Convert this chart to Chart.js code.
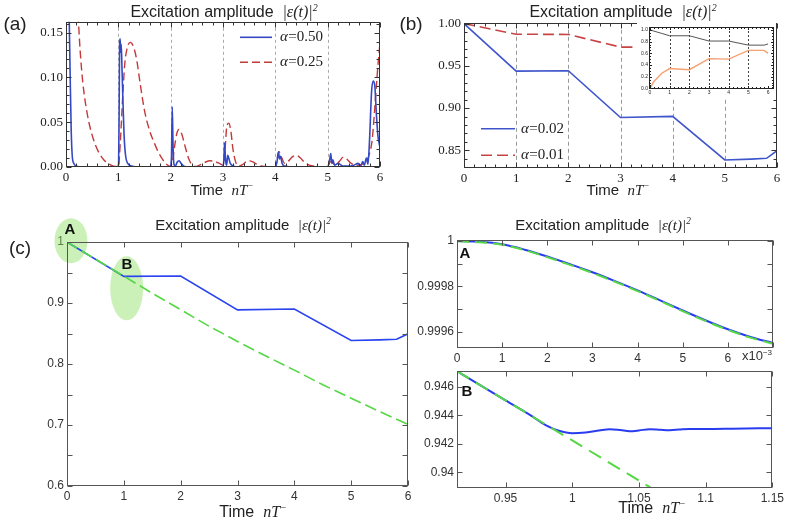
<!DOCTYPE html>
<html><head><meta charset="utf-8">
<script src="https://cdn.jsdelivr.net/npm/chart.js@4.4.0/dist/chart.umd.min.js"></script>
<style>
html,body{margin:0;padding:0;background:#fff;}
body{width:789px;height:523px;position:relative;overflow:hidden;font-family:'Liberation Sans',Arial,sans-serif;}
canvas{position:absolute;}
.t{position:absolute;white-space:nowrap;transform:translate(-50%,-50%);color:#222;line-height:1;}
.m{font-family:'Liberation Serif','DejaVu Serif',serif;font-style:italic;}
.b{font-weight:bold;color:#111;}
sup{font-size:62%;vertical-align:0.6em;line-height:0;}
</style></head><body>
<canvas id="ca"></canvas>
<canvas id="cb"></canvas>
<canvas id="cin"></canvas>
<canvas id="cc"></canvas>
<canvas id="cA"></canvas>
<canvas id="cB"></canvas>

<div class="t" style="left:15px;top:23px;font-size:19px">(a)</div>
<div class="t" style="left:411px;top:23px;font-size:19px">(b)</div>
<div class="t" style="left:20px;top:247px;font-size:19px">(c)</div>

<div class="t" style="left:224px;top:12px;font-size:16px">Excitation amplitude&nbsp; <span class="m">|ε(t)|<sup>2</sup></span></div>
<div class="t" style="left:623px;top:12px;font-size:16px">Excitation amplitude&nbsp; <span class="m">|ε(t)|<sup>2</sup></span></div>
<div class="t" style="left:243px;top:225px;font-size:15px">Excitation amplitude&nbsp; <span class="m">|ε(t)|<sup>2</sup></span></div>
<div class="t" style="left:603px;top:225px;font-size:15px">Excitation amplitude&nbsp; <span class="m">|ε(t)|<sup>2</sup></span></div>

<div class="t" style="left:222px;top:190px;font-size:15px">Time&nbsp; <span class="m">nT<sup>−</sup></span></div>
<div class="t" style="left:618px;top:190px;font-size:15px">Time&nbsp; <span class="m">nT<sup>−</sup></span></div>
<div class="t" style="left:253px;top:512px;font-size:16px">Time&nbsp; <span class="m">nT<sup>−</sup></span></div>
<div class="t" style="left:652px;top:508px;font-size:16px">Time&nbsp; <span class="m">nT<sup>−</sup></span></div>

<div class="t b" style="left:70px;top:228px;font-size:15px">A</div>
<div class="t b" style="left:127px;top:263px;font-size:15px">B</div>
<div class="t b" style="left:465px;top:252px;font-size:15px">A</div>
<div class="t b" style="left:467px;top:390px;font-size:15px">B</div>
<div class="t" style="left:757px;top:355px;font-size:13px;color:#333">x10<sup>−3</sup></div>

<script>
// ---------------- DATA ----------------
// Panel (a): |eps|^2, alpha = 0.50 (blue) and 0.25 (red dashed)
const paBlueT = [0,0.04,0.06,0.08,0.10,0.12,0.15,0.2,0.3,0.99,1.005,1.015,1.025,1.035,1.045,1.055,1.07,1.09,1.11,1.14,1.18,1.25,1.35,1.99,2.015,2.03,2.045,2.06,2.09,2.12,2.16,2.2,2.25,2.35,2.99,3.015,3.03,3.05,3.07,3.09,3.11,3.14,3.2,3.3,3.99,4.03,4.06,4.08,4.1,4.13,4.18,4.3,4.99,5.03,5.06,5.08,5.1,5.13,5.2,5.3,5.4,5.5,5.58,5.63,5.67,5.7,5.74,5.77,5.8,5.84,5.87,5.9,5.93,5.96,6.0];
const paBlueV = [0.30,0.22,0.17,0.10,0.04,0.012,0.004,0.001,0.0,0.0,0.004,0.06,0.138,0.143,0.128,0.137,0.11,0.07,0.035,0.012,0.004,0.001,0.0,0.0,0.01,0.067,0.025,0.004,0.001,0.005,0.007,0.004,0.001,0.0,0.0,0.006,0.027,0.007,0.002,0.013,0.01,0.004,0.001,0.0,0.0,0.005,0.017,0.009,0.012,0.004,0.001,0.0,0.0,0.005,0.015,0.004,0.008,0.002,0.004,0.001,0.001,0.002,0.004,0.001,0.006,0.002,0.01,0.003,0.03,0.085,0.096,0.091,0.06,0.035,0.022];
const paRedT = [0,0.1,0.18,0.24,0.27,0.32,0.41,0.54,0.7,0.86,0.95,1.0,1.04,1.08,1.12,1.17,1.23,1.29,1.35,1.42,1.5,1.6,1.68,1.76,1.84,1.92,2.0,2.04,2.08,2.12,2.16,2.21,2.28,2.34,2.4,2.47,2.55,2.65,2.75,2.85,2.93,3.0,3.04,3.07,3.11,3.15,3.19,3.24,3.3,3.38,3.48,3.56,3.65,3.75,3.9,4.0,4.03,4.07,4.11,4.18,4.24,4.32,4.4,4.48,4.56,4.65,4.8,5.0,5.05,5.1,5.15,5.22,5.3,5.36,5.45,5.55,5.65,5.75,5.8,5.85,5.89,5.93,5.97,6.0];
const paRedV = [1.0,0.45,0.22,0.16,0.13,0.095,0.058,0.028,0.0096,0.002,0.0005,0.0005,0.03,0.075,0.113,0.133,0.139,0.134,0.12,0.092,0.063,0.04,0.028,0.017,0.009,0.003,0.0005,0.008,0.025,0.038,0.042,0.037,0.022,0.01,0.003,0.0005,0.002,0.005,0.007,0.006,0.004,0.002,0.02,0.044,0.049,0.04,0.02,0.006,0.001,0.003,0.007,0.006,0.003,0.001,0.0003,0.0,0.008,0.017,0.012,0.004,0.006,0.011,0.013,0.01,0.005,0.002,0.0005,0.0,0.006,0.004,0.003,0.006,0.011,0.009,0.004,0.002,0.003,0.008,0.015,0.03,0.058,0.09,0.12,0.138];
const paLabels = ['α=0.50','α=0.25'];
const paXTicks = [0,1,2,3,4,5,6];
const paYTicks = [0,0.05,0.10,0.15];

// Panels (b) and (c): alpha = 0.02 (blue), alpha = 0.01 (red dashed)
const slowT = [0,1,2,3,4,5,5.5,5.8,6];
const slowBlue = [1.0,0.9437,0.9442,0.8888,0.8902,0.8385,0.8395,0.8405,0.8495];
const pbRedT = [0,1,2,3,4,5,6];
const pbRedV = [1.0,0.9875,0.9872,0.9722,0.9722,0.9587,0.9598];
const pbLabels = ['α=0.02','α=0.01'];
const pbXTicks = [0,1,2,3,4,5,6];
const pbYTicks = [0.85,0.90,0.95,1.00];

// Inset of (b)
const inT = [0,0.2,0.6,1,2,3,4,5,5.8,6];
const inGray = [1.0,0.98,0.94,0.90,0.90,0.81,0.81,0.74,0.74,0.76];
const inOrange = [0.0,0.12,0.26,0.34,0.32,0.51,0.50,0.65,0.65,0.60];
const inXTicks = [0,1,2,3,4,5,6];
const inYTicks = [0,0.2,0.4,0.6,0.8,1.0];

// Panel (c): green dashed reference decay
const pcGreenT = [0,0.5,1,1.5,2,2.5,3,3.5,4,4.5,5,5.5,6];
const pcGreenV = [1.0,0.972,0.944,0.916,0.889,0.862,0.837,0.813,0.790,0.766,0.744,0.722,0.701];
const pcXTicks = [0,1,2,3,4,5,6];
const pcYTicks = [0.6,0.65,0.7,0.75,0.8,0.85,0.9,0.95,1.0];
const pcYLabels = [0.6,0.7,0.8,0.9,1.0];

// Panel A (time in units of 1e-3)
const pAT = [0,0.5,1,1.5,2,2.5,3,3.5,4,4.5,5,5.5,6,6.5,7];
const pABlue = [1.0,0.999997,0.999986,0.999962,0.999932,0.999898,0.999862,0.999823,0.999782,0.999738,0.999693,0.999650,0.999610,0.999576,0.999549];
const pAGreen = [0.999999,0.999995,0.999984,0.999960,0.999929,0.999895,0.999859,0.999820,0.999779,0.999735,0.999690,0.999647,0.999607,0.999573,0.999546];
const pAXTicks = [0,1,2,3,4,5,6,7];
const pAXLabels = [0,1,2,3,4,5,6];
const pAYTicks = [0.9996,0.9997,0.9998,0.9999,1.0];
const pAYLabels = [0.9996,0.9998,1.0];

// Panel B
const pBBlueT = [0.9136,0.93,0.95,0.97,0.98,0.99,1.0,1.01,1.02,1.028,1.036,1.043,1.05,1.058,1.066,1.073,1.08,1.088,1.1,1.12,1.15];
const pBBlueV = [0.9471,0.94618,0.94505,0.94393,0.94332,0.94292,0.94275,0.94280,0.94293,0.94303,0.94297,0.94289,0.94294,0.94303,0.94299,0.94296,0.94300,0.94305,0.94304,0.94306,0.94310];
const pBGreenT = [0.9136,0.95,1.0,1.06];
const pBGreenV = [0.9471,0.94505,0.94224,0.93886];
const pBXTicks = [0.95,1.0,1.05,1.1,1.15];
const pBYTicks = [0.94,0.942,0.944,0.946];

// ---------------- HELPERS ----------------
const zip = (t,v) => t.map((x,i)=>({x, y:v[i]}));
const range = (a,b,s) => { const r=[]; for(let v=a; v<=b+1e-9; v+=s) r.push(+v.toFixed(6)); return r; };
const fmtNum = v => String(+v.toFixed(6));

function place(id, r, yW, padT, padR, xH){
  const c=document.getElementById(id);
  const w=r.R-r.L+yW+padR, h=r.B-r.T+padT+xH;
  c.style.left=(r.L-yW)+'px'; c.style.top=(r.T-padT)+'px';
  c.width=w; c.height=h; c.style.width=w+'px'; c.style.height=h+'px';
  return c;
}

function axis(o){
  const all = o.ticks.slice().sort((a,b)=>a-b);
  const lab = o.labels || o.ticks;
  return {
    type:'linear', min:o.min, max:o.max,
    grid:{display:false, drawTicks:false},
    border:{display:false},
    ticks:{autoSkip:false, maxRotation:0, minRotation:0, padding:o.pad ?? 3, color:o.color||'#222',
      font:o.font,
      callback:(v)=> lab.some(m=>Math.abs(m-v)<1e-9) ? o.fmt(v) : ''},
    afterBuildTicks:(s)=>{ s.ticks = all.map(v=>({value:v})); },
    afterFit:(s)=>{ if(o.isX) s.height=o.size; else s.width=o.size; }
  };
}

const framePlugin = {id:'frame', afterDatasetsDraw(chart, args, o){
  if(!o || !o.color) return;
  const {ctx, chartArea:a} = chart;
  const x0=Math.round(a.left)+0.5, x1=Math.round(a.right)-0.5, y0=Math.round(a.top)+0.5, y1=Math.round(a.bottom)-0.5;
  ctx.save(); ctx.strokeStyle=o.color; ctx.lineWidth=o.lw||1; ctx.setLineDash([]);
  for(const sc of Object.values(chart.scales)){
    for(const t of sc.ticks){
      const len = t.label ? o.major : o.minor;
      const p = Math.round(sc.getPixelForValue(t.value))+0.5;
      ctx.beginPath();
      if(sc.isHorizontal()){
        if(p<x0-1||p>x1+1) continue;
        ctx.moveTo(p,y1); ctx.lineTo(p,y1-len); ctx.moveTo(p,y0); ctx.lineTo(p,y0+len);
      } else {
        if(p<y0-1||p>y1+1) continue;
        ctx.moveTo(x0,p); ctx.lineTo(x0+len,p); ctx.moveTo(x1,p); ctx.lineTo(x1-len,p);
      }
      ctx.stroke();
    }
  }
  ctx.strokeRect(x0,y0,x1-x0,y1-y0);
  ctx.restore();
}};

const vlinePlugin = {id:'vlines', beforeDatasetsDraw(chart, args, o){
  if(!o || !o.values) return;
  const {ctx, chartArea:a, scales:{x}} = chart;
  ctx.save(); ctx.strokeStyle=o.color; ctx.lineWidth=1; ctx.setLineDash(o.dash);
  for(const v of o.values){
    const p=Math.round(x.getPixelForValue(v))+0.5;
    ctx.beginPath(); ctx.moveTo(p,a.top); ctx.lineTo(p,a.bottom); ctx.stroke();
  }
  ctx.restore();
}};

const legendPlugin = {id:'inleg', afterDatasetsDraw(chart, args, o){
  if(!o || !o.items) return;
  const {ctx, chartArea:a} = chart;
  ctx.save();
  for(const it of o.items){
    const ds=chart.data.datasets[it.ds]; const y=a.top+it.dy;
    ctx.strokeStyle=ds.borderColor; ctx.lineWidth=ds.borderWidth; ctx.setLineDash(it.dash||[]);
    ctx.beginPath(); ctx.moveTo(a.left+o.x0,y); ctx.lineTo(a.left+o.x1,y); ctx.stroke(); ctx.setLineDash([]);
    const lab=ds.label; ctx.fillStyle='#222'; ctx.textBaseline='middle'; ctx.textAlign='left';
    ctx.font='italic '+o.size+'px "Liberation Serif", serif';
    ctx.fillText(lab[0], a.left+o.tx, y);
    const w=ctx.measureText(lab[0]).width;
    ctx.font=o.size+'px "Liberation Serif", serif';
    ctx.fillText(lab.slice(1), a.left+o.tx+w+0.5, y);
  }
  ctx.restore();
}};

const ellipsePlugin = {id:'ellipses', beforeDatasetsDraw(chart, args, o){
  if(!o || !o.items) return;
  const {ctx, scales:{x,y}} = chart;
  ctx.save(); ctx.fillStyle=o.color;
  for(const e of o.items){
    ctx.beginPath(); ctx.ellipse(x.getPixelForValue(e.x), y.getPixelForValue(e.y), e.rx, e.ry, 0, 0, Math.PI*2); ctx.fill();
  }
  ctx.restore();
}};

const bgPlugin = {id:'bg', beforeDraw(chart, args, o){
  if(!o || !o.color) return;
  const {ctx} = chart; ctx.save(); ctx.fillStyle=o.color; ctx.fillRect(0,0,chart.width,chart.height); ctx.restore();
}};

Chart.register(framePlugin, vlinePlugin, legendPlugin, ellipsePlugin, bgPlugin);

function make(id, datasets, scales, plugins, padT, padR){
  return new Chart(document.getElementById(id), {
    type:'line',
    data:{datasets},
    options:{
      responsive:false, animation:false, devicePixelRatio:1, events:[],
      layout:{padding:{top:padT, right:padR, left:0, bottom:0}},
      scales,
      plugins:Object.assign({legend:{display:false}, tooltip:{enabled:false}}, plugins)
    }
  });
}

const serif13 = {family:'"Liberation Serif", "DejaVu Serif", serif', size:13};
const sans12 = {family:'"Liberation Sans", Arial, sans-serif', size:12};

// ---------------- PANEL (a) ----------------
place('ca', {L:66,T:21,R:380,B:167}, 50, 10, 16, 22);
make('ca', [
  {label:paLabels[0], data:zip(paBlueT,paBlueV), borderColor:'#3448c4', borderWidth:1.6, pointRadius:0, cubicInterpolationMode:'monotone', order:0},
  {label:paLabels[1], data:zip(paRedT,paRedV), borderColor:'#c43a3a', borderWidth:1.4, borderDash:[8,4], pointRadius:0, cubicInterpolationMode:'monotone', order:1}
], {
  x: axis({min:0,max:6,ticks:paXTicks.concat(range(0.2,5.8,0.2).filter(v=>Math.abs(v-Math.round(v))>1e-6)),labels:paXTicks,fmt:v=>String(Math.round(v)),font:serif13,isX:true,size:22}),
  y: axis({min:0,max:0.162,ticks:paYTicks.concat(range(0.01,0.16,0.01).filter(v=>Math.abs(v*20-Math.round(v*20))>1e-6)),labels:paYTicks,fmt:v=>v.toFixed(2),font:serif13,size:50})
}, {
  frame:{color:'#333', major:5, minor:3},
  vlines:{values:[1,2,3,4,5], color:'#aaa', dash:[3,3]},
  inleg:{x0:174, x1:206, tx:214, size:15, items:[{ds:0, dy:15.5},{ds:1, dy:40.5, dash:[8,4]}]}
}, 10, 16);

// ---------------- PANEL (b) ----------------
place('cb', {L:464,T:22,R:777,B:168}, 50, 10, 10, 22);
make('cb', [
  {label:pbLabels[0], data:zip(slowT,slowBlue), borderColor:'#3f55cc', borderWidth:1.6, pointRadius:0, tension:0, order:0},
  {label:pbLabels[1], data:zip(pbRedT,pbRedV), borderColor:'#c84444', borderWidth:1.6, borderDash:[11,5], pointRadius:0, tension:0, order:1}
], {
  x: axis({min:0,max:6,ticks:pbXTicks.concat(range(0.2,5.8,0.2).filter(v=>Math.abs(v-Math.round(v))>1e-6)),labels:pbXTicks,fmt:v=>String(Math.round(v)),font:serif13,isX:true,size:22}),
  y: axis({min:0.829,max:1.001,ticks:pbYTicks.concat(range(0.83,1.0,0.01).filter(v=>Math.abs(v*20-Math.round(v*20))>1e-6)),labels:pbYTicks,fmt:v=>v.toFixed(2),font:serif13,size:50})
}, {
  frame:{color:'#333', major:5, minor:3},
  vlines:{values:[1,2,3,4,5], color:'#999', dash:[4,3]},
  inleg:{x0:17, x1:51, tx:57, size:15, items:[{ds:0, dy:106},{ds:1, dy:132.5, dash:[11,5]}]}
}, 10, 10);

// ---------------- INSET ----------------
place('cin', {L:649,T:27,R:774,B:89}, 12, 4, 2, 8);
const tiny = {family:'"Liberation Sans", Arial, sans-serif', size:5};
make('cin', [
  {label:'gray', data:zip(inT,inGray), borderColor:'#555', borderWidth:1, pointRadius:0, tension:0},
  {label:'orange', data:zip(inT,inOrange), borderColor:'#f7a070', borderWidth:1.4, pointRadius:0, tension:0}
], {
  x: axis({min:-0.05,max:6.3,ticks:inXTicks.concat(range(0.2,6.2,0.2).filter(v=>Math.abs(v-Math.round(v))>1e-6)),labels:inXTicks,fmt:v=>String(Math.round(v)),font:tiny,isX:true,size:8,pad:1}),
  y: axis({min:-0.01,max:1.05,ticks:inYTicks.concat(range(0.05,1.0,0.05).filter(v=>Math.abs(v*5-Math.round(v*5))>1e-6)),labels:inYTicks,fmt:v=>v.toFixed(1),font:tiny,size:12,pad:1})
}, {
  bg:{color:'#fff'},
  frame:{color:'#222', major:2.5, minor:1.5},
  vlines:{values:[1,2,3,4,5], color:'#444', dash:[2,2]}
}, 4, 2);

// ---------------- PANEL (c) ----------------
place('cc', {L:67,T:242,R:408,B:486}, 50, 30, 14, 22);
make('cc', [
  {label:'full', data:zip(slowT,slowBlue), borderColor:'#2a44f0', borderWidth:1.6, pointRadius:0, tension:0, order:1},
  {label:'decay', data:zip(pcGreenT,pcGreenV), borderColor:'#55d844', borderWidth:1.6, borderDash:[12,5], pointRadius:0, tension:0, order:0}
], {
  x: axis({min:0,max:6,ticks:pcXTicks,labels:pcXTicks,fmt:v=>String(Math.round(v)),font:sans12,color:'#333',isX:true,size:22}),
  y: axis({min:0.6,max:1.0,ticks:pcYTicks,labels:pcYLabels,fmt:fmtNum,font:sans12,color:'#333',size:50})
}, {
  frame:{color:'#555', major:5, minor:5},
  ellipses:{color:'rgba(140,225,100,0.45)', items:[{x:0.07,y:1.002,rx:16.5,ry:22.5},{x:1.05,y:0.924,rx:16.5,ry:32}]}
}, 30, 14);

// ---------------- PANEL A ----------------
place('cA', {L:457,T:240,R:773,B:348}, 50, 10, 14, 20);
make('cA', [
  {label:'full', data:zip(pAT,pABlue), borderColor:'#2a3cf0', borderWidth:2, pointRadius:0, cubicInterpolationMode:'monotone', order:1},
  {label:'decay', data:zip(pAT,pAGreen), borderColor:'#55d844', borderWidth:2, borderDash:[12,6], pointRadius:0, cubicInterpolationMode:'monotone', order:0}
], {
  x: axis({min:0,max:7,ticks:pAXTicks,labels:pAXLabels,fmt:v=>String(Math.round(v)),font:sans12,color:'#333',isX:true,size:20}),
  y: axis({min:0.999527,max:1.000004,ticks:pAYTicks,labels:pAYLabels,fmt:fmtNum,font:sans12,color:'#333',size:50})
}, {
  frame:{color:'#555', major:5, minor:5}
}, 10, 14);

// ---------------- PANEL B ----------------
place('cB', {L:457,T:371,R:773,B:488}, 50, 10, 14, 22);
make('cB', [
  {label:'full', data:zip(pBBlueT,pBBlueV), borderColor:'#2a3cf0', borderWidth:2, pointRadius:0, cubicInterpolationMode:'monotone', order:1},
  {label:'decay', data:zip(pBGreenT,pBGreenV), borderColor:'#55d844', borderWidth:2, borderDash:[14,8], pointRadius:0, tension:0, order:0}
], {
  x: axis({min:0.9136,max:1.15,ticks:pBXTicks,labels:pBXTicks,fmt:fmtNum,font:sans12,color:'#333',isX:true,size:22}),
  y: axis({min:0.9389,max:0.9471,ticks:pBYTicks,labels:pBYTicks,fmt:fmtNum,font:sans12,color:'#333',size:50})
}, {
  frame:{color:'#555', major:5, minor:5}
}, 10, 14);
</script>
</body></html>
